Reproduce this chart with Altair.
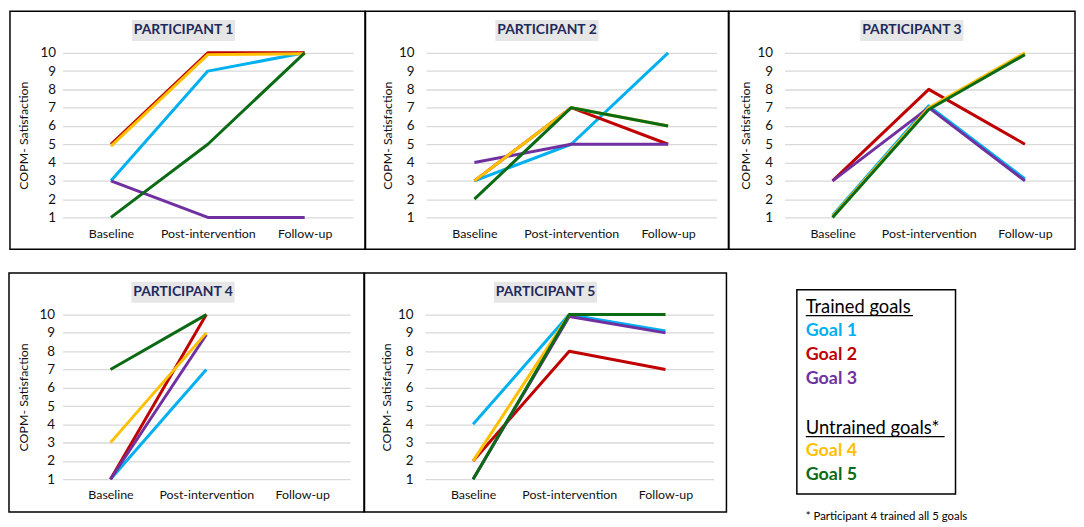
import altair as alt
import pandas as pd

TIMES = ["Baseline", "Post-intervention", "Follow-up"]
GOALS = ["Goal 1", "Goal 2", "Goal 3", "Goal 4", "Goal 5"]
GOAL_COLORS = ["#00B0F0", "#C00000", "#7030A0", "#FFC000", "#0B6A14"]

# values per goal at Baseline, Post-intervention, Follow-up (None = not measured)
P1 = {"Goal 1": [3, 9, 10], "Goal 2": [5, 10, 10], "Goal 3": [3, 1, 1],
      "Goal 4": [4.9, 9.9, 9.95], "Goal 5": [1, 5, 10]}
P2 = {"Goal 1": [3, 5, 10], "Goal 2": [3, 7, 5], "Goal 3": [4, 5, 5],
      "Goal 4": [3, 7, 6], "Goal 5": [2, 7, 6]}
P3 = {"Goal 1": [1.1, 7.1, 3.1], "Goal 2": [3, 8, 5], "Goal 3": [3, 7, 3],
      "Goal 4": [1.05, 7.0, 10], "Goal 5": [1, 6.9, 9.9]}
P4 = {"Goal 1": [1, 7, None], "Goal 2": [1, 10, None], "Goal 3": [1, 8.9, None],
      "Goal 4": [3, 9, None], "Goal 5": [7, 10, None]}
P5 = {"Goal 1": [4, 10, 9.1], "Goal 2": [2, 8, 7], "Goal 3": [1, 9.9, 9],
      "Goal 4": [2, 10, 10], "Goal 5": [1, 10, 10]}

PARTICIPANTS = {1: P1, 2: P2, 3: P3, 4: P4, 5: P5}

HEADERS = ["Trained goals", "Untrained goals*"]
FOOTNOTE = "* Participant 4 trained all 5 goals"
Y_TICKS = list(range(1, 11))

rows = []
for pid, goals in PARTICIPANTS.items():
    for g, vals in goals.items():
        for t, v in zip(TIMES, vals):
            if v is not None:
                rows.append({"participant": pid, "goal": g, "time": t, "value": v})
df = pd.DataFrame(rows)
ONE = pd.DataFrame({"k": [0]})

FONT = "Lato"
TXT = "#111111"


def panel(pid, L, W, R, T, H, B, lab_pad, xlab_pad, title_dx):
    d = df[df.participant == pid]
    box_w = L + W + R
    cx = -L + box_w / 2 + title_dx
    x = alt.X("time:N",
              scale=alt.Scale(type="point", domain=TIMES, padding=0.5),
              axis=alt.Axis(title=None, grid=False, domain=False, ticks=False,
                            labelAngle=0, labelPadding=xlab_pad, labelFontSize=12.5,
                            labelFont=FONT, labelColor=TXT))
    y = alt.Y("value:Q",
              scale=alt.Scale(domain=[1, 10], nice=False, zero=False),
              axis=alt.Axis(values=Y_TICKS, grid=True, gridColor="#D9D9D9",
                            gridWidth=1.3, domain=False, ticks=False,
                            labelPadding=lab_pad, labelFontSize=13.5,
                            labelFont=FONT, labelColor=TXT,
                            title="COPM- Satisfaction", titleFont=FONT,
                            titleFontSize=12.5, titleFontWeight="normal",
                            titleColor=TXT, titleX=-39, titleY=H / 2,
                            titleBaseline="middle"))
    color = alt.Color("goal:N", scale=alt.Scale(domain=GOALS, range=GOAL_COLORS),
                      legend=None)
    border = alt.Chart(ONE).mark_rect(fillOpacity=0, stroke="black", strokeWidth=1.5).encode(
        x=alt.value(-L), x2=alt.value(W + R), y=alt.value(-T), y2=alt.value(H + B))
    title_bg = alt.Chart(ONE).mark_rect(fill="#E7E6E6").encode(
        x=alt.value(cx - 52), x2=alt.value(cx + 52),
        y=alt.value(-T + 9), y2=alt.value(-T + 30))
    title_txt = alt.Chart(pd.DataFrame({"t": [f"PARTICIPANT {pid}"]})).mark_text(
        font=FONT, fontWeight="bold", fontSize=14, color="#1F2A5C",
        align="center", baseline="middle").encode(
        text="t:N", x=alt.value(cx), y=alt.value(-T + 19.5))
    lines = []
    for g in GOALS:
        lines.append(
            alt.Chart(d).transform_filter(alt.datum.goal == g)
            .mark_line(strokeWidth=3, strokeJoin="round")
            .encode(x=x, y=y, color=color)
        )
    return alt.layer(border, title_bg, title_txt, *lines).properties(width=W, height=H)


p1 = panel(1, 53, 293, 12, 42, 166, 32, 7, 10, -4)
p2 = panel(2, 61, 293, 12, 42, 166, 32, 12, 10, 0)
p3 = panel(3, 56, 291, 2, 42, 166, 32, 12, 10, 10)
p4 = panel(4, 54, 290, 14, 42, 166, 33, 8, 9, -3.5)
p5 = panel(5, 61, 291, 13, 42, 166, 33, 12, 9, 0)

# custom legend (positions relative to the plot top of the bottom row)
LX = 79
leg_layers = [
    alt.Chart(ONE).mark_rect(fillOpacity=0, stroke="black", strokeWidth=1.5).encode(
        x=alt.value(70), x2=alt.value(230), y=alt.value(-25), y2=alt.value(181))
]
header_y = [-8, 114]
underline_w = [108, 140]
underline_y = [1, 123]
for h, hy, uw, uy in zip(HEADERS, header_y, underline_w, underline_y):
    leg_layers.append(
        alt.Chart(pd.DataFrame({"t": [h]})).mark_text(
            font=FONT, fontSize=18.5, color="black", align="left", baseline="middle"
        ).encode(text="t:N", x=alt.value(LX), y=alt.value(hy)))
    leg_layers.append(
        alt.Chart(ONE).mark_rule(color="black", strokeWidth=1.2).encode(
            x=alt.value(LX), x2=alt.value(LX + uw), y=alt.value(uy)))
goal_y = [17, 41, 65, 138, 162]
for g, c, gy in zip(GOALS, GOAL_COLORS, goal_y):
    leg_layers.append(
        alt.Chart(pd.DataFrame({"t": [g]})).mark_text(
            font=FONT, fontSize=18, fontWeight="bold", color=c, align="left",
            baseline="middle").encode(text="t:N", x=alt.value(LX), y=alt.value(gy)))
leg_layers.append(
    alt.Chart(pd.DataFrame({"t": [FOOTNOTE]})).mark_text(
        font=FONT, fontSize=11.5, color="black", align="left", baseline="middle"
    ).encode(text="t:N", x=alt.value(LX), y=alt.value(204)))
legend = alt.layer(*leg_layers).properties(width=300, height=166)

top = alt.hconcat(p1, p2, p3, spacing=-1.5)
bottom = alt.hconcat(p4, p5, legend, spacing=-1.5)
chart = (
    alt.vconcat(top, bottom, spacing=22)
    .properties(padding=0)
    .configure_view(stroke=None)
)

chart.save("out.html", embed_options={"renderer": "svg", "actions": False})
